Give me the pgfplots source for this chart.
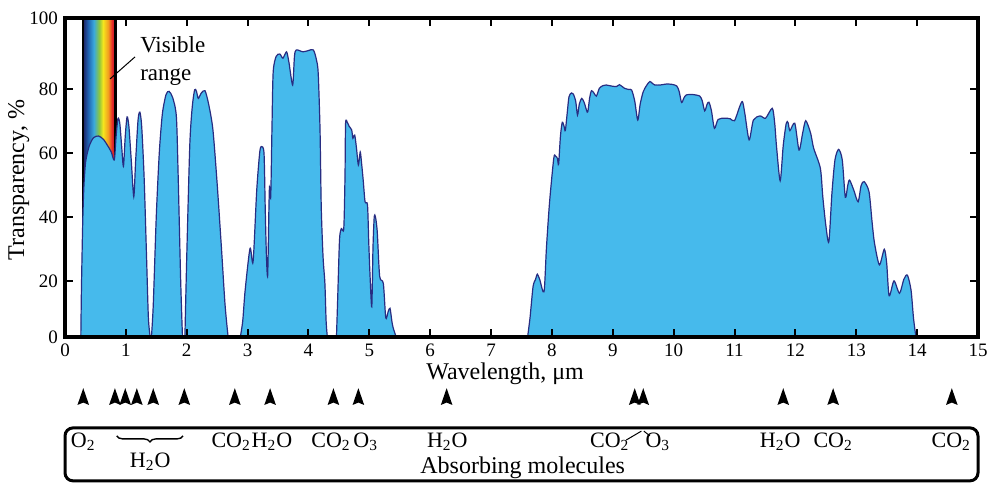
\documentclass[border=0pt]{standalone}
\usepackage{fontspec}
\setmainfont{Liberation Serif}
\usepackage{pgfplots}
\pgfplotsset{compat=1.18}
\usetikzlibrary{decorations.pathreplacing}
\definecolor{bandfill}{RGB}{70,186,236}
\definecolor{bandline}{RGB}{40,45,130}
\definecolor{rbA}{RGB}{30,26,90}
\definecolor{rbB}{RGB}{31,95,174}
\definecolor{rbC}{RGB}{58,169,220}
\definecolor{rbD}{RGB}{140,198,63}
\definecolor{rbE}{RGB}{245,230,30}
\definecolor{rbF}{RGB}{243,156,31}
\definecolor{rbG}{RGB}{227,38,42}
\definecolor{rbH}{RGB}{176,30,35}
\pgfdeclarehorizontalshading{rainbow}{100bp}{color(0bp)=(rbA); color(25bp)=(rbA); color(33bp)=(rbB); color(42bp)=(rbC); color(50bp)=(rbD); color(56bp)=(rbE); color(64bp)=(rbF); color(70bp)=(rbG); color(75bp)=(rbH); color(100bp)=(rbH)}
\pgfdeclareplotmark{uparrow}{%
  \pgfpathmoveto{\pgfpoint{0pt}{4.4pt}}%
  \pgfpathlineto{\pgfpoint{2.9pt}{-4pt}}%
  \pgfpathlineto{\pgfpoint{0pt}{-2.8pt}}%
  \pgfpathlineto{\pgfpoint{-2.9pt}{-4pt}}%
  \pgfpathclose
  \pgfusepathqfill}
\pgfplotsset{band/.style={fill=bandfill, draw=bandline, line width=0.6pt, smooth, tension=0.45}}
\begin{document}
\begin{tikzpicture}
\useasboundingbox (0,0) rectangle (493.5pt,241.5pt);
\begin{axis}[
  scale only axis, width=456.5pt, height=159.5pt,
  at={(32.5pt,73pt)}, anchor=south west,
  xmin=0, xmax=15, ymin=0, ymax=100,
  xtick={0,1,...,15},
  ytick={0,17.6,37.6,57.7,77.7,100}, yticklabels={0,20,40,60,80,100},
  axis line style={line width=2pt},
  tick style={line width=1pt, black}, major tick length=4pt,
  tick align=inside, axis on top,
  clip=false,
  ticklabel style={font=\fontsize{9.5}{11}\selectfont},
  /pgf/number format/assume math mode=true,
]
\fill[shading=rainbow] (axis cs:0.29,0) rectangle (axis cs:0.83,100);
\draw[line width=1pt] (axis cs:0.29,0) -- (axis cs:0.29,100);
\draw[line width=1.2pt] (axis cs:0.83,0) -- (axis cs:0.83,100);
\addplot[band] coordinates {
(0.26,0) (0.27,15) (0.29,35) (0.31,47) (0.34,55) (0.40,60) (0.47,62.5) (0.55,63) (0.63,62) (0.70,60) (0.76,58) (0.81,55.5) (0.84,63) (0.87,68.5) (0.90,67) (0.93,60) (0.96,53.5) (0.99,63) (1.02,69) (1.05,66) (1.09,55) (1.13,44) (1.16,55) (1.20,68) (1.23,70.5) (1.26,66) (1.30,50) (1.34,25) (1.37,6) (1.40,0)
} \closedcycle;
\addplot[band] coordinates {
(1.42,0) (1.45,10) (1.50,38) (1.55,58) (1.60,70) (1.66,76) (1.71,77) (1.77,75) (1.83,69) (1.86,50) (1.90,18) (1.93,0)
} \closedcycle;
\addplot[band] coordinates {
(1.97,0) (2.00,25) (2.05,60) (2.09,72) (2.13,77.5) (2.16,77) (2.19,74.8) (2.24,76.5) (2.30,77.2) (2.36,73) (2.43,65) (2.50,48) (2.57,28) (2.63,10) (2.68,0)
} \closedcycle;
\addplot[band] coordinates {
(2.88,0) (2.92,5) (2.96,14.7) (3.04,27.8) (3.09,23.6) (3.15,46) (3.20,58) (3.23,59.7) (3.27,57.5) (3.29,40) (3.31,25) (3.33,19.4) (3.35,40) (3.36,47) (3.38,44) (3.40,65) (3.42,83) (3.47,88) (3.53,88.7) (3.58,87.4) (3.64,89.4) (3.68,86) (3.74,79) (3.77,88) (3.80,90) (3.91,89.4) (4.00,89.8) (4.08,90) (4.13,87) (4.16,82.7) (4.19,65) (4.21,40.8) (4.24,25) (4.27,16.8) (4.29,5) (4.31,0)
} \closedcycle;
\addplot[band] coordinates {
(4.46,0) (4.48,12) (4.51,30.4) (4.54,34) (4.58,34) (4.60,50) (4.61,67) (4.64,67.2) (4.67,66) (4.71,64.9) (4.73,62.3) (4.76,63.3) (4.79,59) (4.82,53.9) (4.85,58) (4.87,55) (4.90,49) (4.93,42.4) (4.97,41.4) (4.99,30) (5.01,20) (5.04,9.5) (5.06,28) (5.08,37.5) (5.10,37.7) (5.13,33) (5.17,19) (5.23,16.8) (5.27,6) (5.31,8) (5.34,9) (5.37,5) (5.39,3) (5.44,0)
} \closedcycle;
\addplot[band] coordinates {
(7.60,0) (7.64,6) (7.69,15.8) (7.73,18) (7.76,19.7) (7.80,18) (7.87,14.2) (7.91,28) (7.96,42) (8.03,56) (8.06,56.7) (8.09,56) (8.11,54.2) (8.14,63) (8.17,67.3) (8.20,66) (8.22,64.7) (8.25,70) (8.28,75.3) (8.32,76.5) (8.35,76.2) (8.39,74) (8.42,69.6) (8.45,73) (8.49,74.8) (8.53,73.5) (8.57,71) (8.59,70.6) (8.62,75) (8.65,77.2) (8.69,76.5) (8.73,75.5) (8.78,78) (8.84,78.8) (8.89,79) (8.97,78.7) (9.06,78.5) (9.11,79.1) (9.19,78) (9.26,77.6) (9.31,77.4) (9.36,74) (9.41,68) (9.45,73) (9.50,76.9) (9.56,79) (9.61,80.1) (9.65,79.5) (9.69,79) (9.78,79) (9.88,79.3) (9.97,79.2) (10.05,78.7) (10.09,77) (10.13,73.5) (10.17,75) (10.21,75.9) (10.32,76) (10.43,75.5) (10.47,74) (10.51,70.9) (10.55,73) (10.58,73.6) (10.62,71) (10.67,65.4) (10.73,68.2) (10.84,68.6) (10.93,68.4) (11.00,67.8) (11.08,72) (11.13,73.8) (11.17,70) (11.24,61.8) (11.31,68) (11.42,69.3) (11.51,68.6) (11.62,71.7) (11.66,67) (11.69,59.7) (11.75,49) (11.80,60) (11.85,67) (11.88,67.2) (11.91,64.7) (11.99,67) (12.06,58.6) (12.12,64) (12.17,67.8) (12.25,63.9) (12.30,59.2) (12.41,52.9) (12.45,44) (12.50,35) (12.55,29.9) (12.60,45) (12.65,55.5) (12.71,58.8) (12.77,55.5) (12.82,43.8) (12.86,47.5) (12.89,49.2) (12.96,46) (13.03,42.4) (13.08,47.5) (13.13,48.7) (13.21,45.5) (13.26,36) (13.30,29.4) (13.38,22.6) (13.46,27.5) (13.50,23.1) (13.54,12.9) (13.62,17.6) (13.71,13.7) (13.78,18) (13.84,19.4) (13.90,14.7) (13.94,6) (13.98,0)
} \closedcycle;
% visible range annotation
\draw[line width=0.5pt] (axis cs:0.74,80.9) -- (axis cs:1.15,87.8);
\node[anchor=west, align=left, inner sep=0pt, font=\fontsize{11.5}{14}\selectfont] at (axis cs:1.23,86.5) {Visible\\range};
% axis labels
\node[font=\fontsize{12}{14}\selectfont] at (axis cs:7.23,-11.6) {Wavelength, μm};
\node[rotate=90, font=\fontsize{12}{14}\selectfont] at (axis cs:-0.76,49.2) {Transparency, \%};
% absorption markers
\addplot[only marks, mark=uparrow, black] coordinates {
(0.30,-18.8) (0.82,-18.8) (0.99,-18.8) (1.18,-18.8) (1.45,-18.8) (1.96,-18.8) (2.79,-18.8) (3.37,-18.8) (4.41,-18.8) (4.82,-18.8) (6.27,-18.8)
(9.36,-18.8) (9.50,-18.8) (11.80,-18.8) (12.62,-18.8) (14.57,-18.8)
};
% molecules box
\draw[line width=1.5pt, rounded corners=4pt] (axis cs:0,-28.5) rectangle (axis cs:15,-45.1);
\begin{scope}[every node/.style={font=\fontsize{11}{13}\selectfont, inner sep=0pt}]
\node at (axis cs:0.30,-32.9) {O\textsubscript{2}};
\draw[line width=0.7pt, decorate, decoration={brace, mirror, amplitude=3pt}] (axis cs:0.85,-31.0) -- (axis cs:1.94,-31.0);
\node at (axis cs:1.40,-39.0) {H\textsubscript{2}O};
\node at (axis cs:2.73,-32.9) {CO\textsubscript{2}};
\node at (axis cs:3.40,-32.9) {H\textsubscript{2}O};
\node at (axis cs:4.37,-32.9) {CO\textsubscript{2}};
\node at (axis cs:4.94,-32.9) {O\textsubscript{3}};
\node at (axis cs:6.28,-32.9) {H\textsubscript{2}O};
\node at (axis cs:8.95,-32.9) {CO\textsubscript{2}};
\node at (axis cs:9.74,-32.9) {O\textsubscript{3}};
\node at (axis cs:11.75,-32.9) {H\textsubscript{2}O};
\node at (axis cs:12.62,-32.9) {CO\textsubscript{2}};
\node at (axis cs:14.56,-32.9) {CO\textsubscript{2}};
\node[font=\fontsize{12}{14}\selectfont] at (axis cs:7.52,-40.9) {Absorbing molecules};
\end{scope}
\draw[line width=0.5pt] (axis cs:9.22,-32.3) -- (axis cs:9.47,-29.5);
\draw[line width=0.5pt] (axis cs:9.51,-29.5) -- (axis cs:9.61,-31.0);
\end{axis}
\end{tikzpicture}
\end{document}
